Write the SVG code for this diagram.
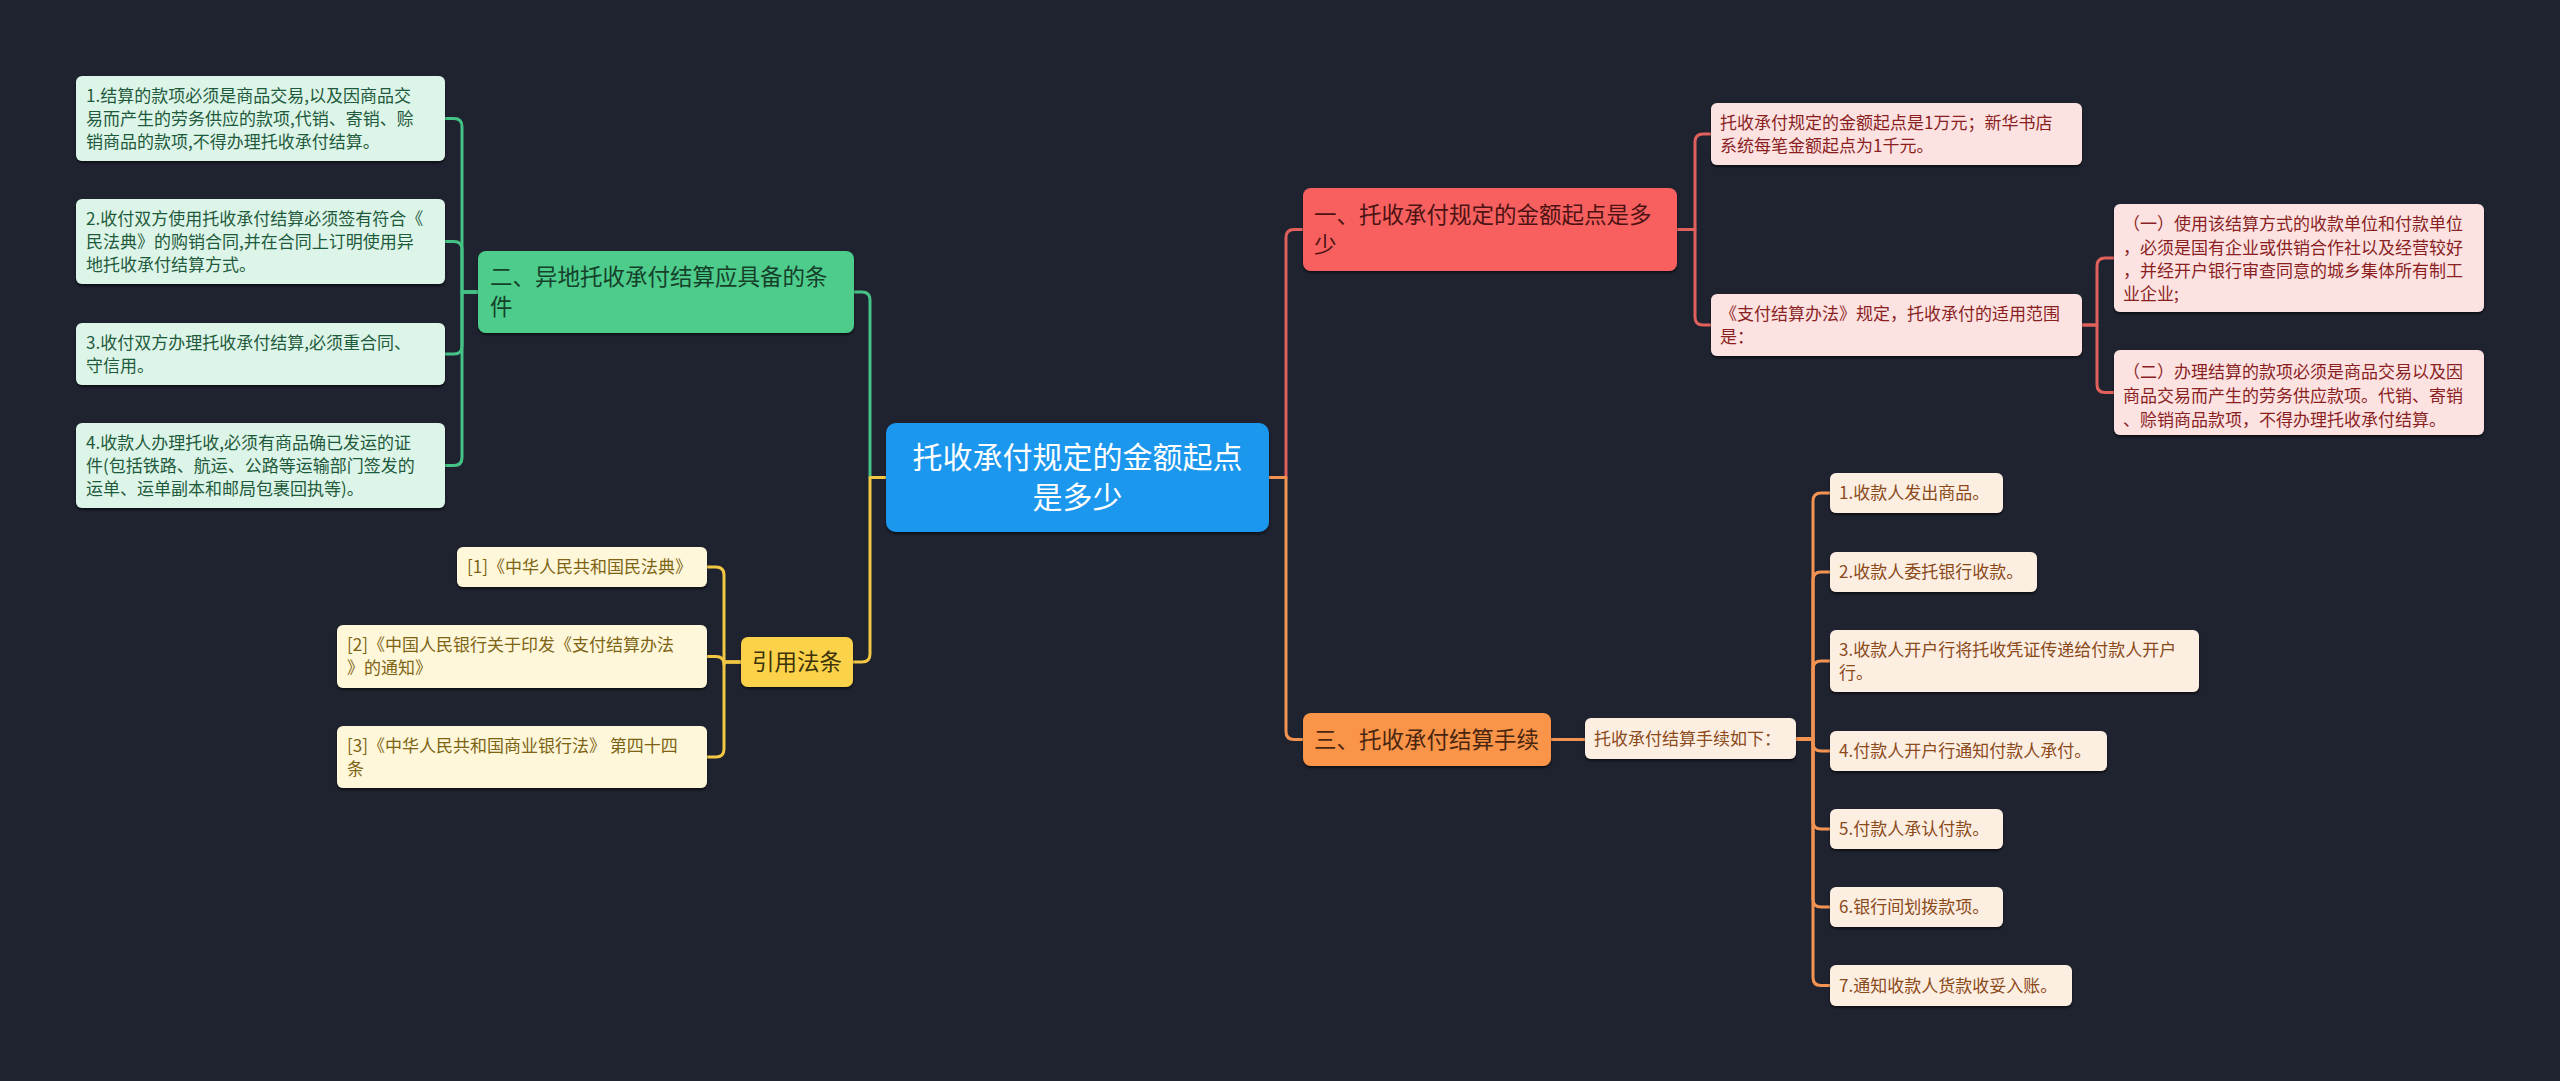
<svg xmlns="http://www.w3.org/2000/svg" width="2560" height="1081" viewBox="0 0 2560 1081">
<defs>
<filter id="sh" x="-5%" y="-10%" width="110%" height="130%">
<feDropShadow dx="0" dy="2" stdDeviation="1" flood-color="#000" flood-opacity="0.55"/>
</filter>
<style>
text{font-family:"Noto Sans CJK SC","Noto Sans",sans-serif;}
.lf{font-size:17px;}
.br{font-size:22.5px;}
.rt{font-size:30px;fill:#ffffff;text-anchor:middle;}
rect{filter:url(#sh);}
.c{fill:none;stroke-width:3;stroke-linejoin:round;}
.cg{stroke:#45c285;} .cy{stroke:#f2c744;} .cr{stroke:#e0605c;} .co{stroke:#f39352;}
.gB rect{fill:#4dcc8c;} .gB text{fill:#15402a;}
.gL rect{fill:#dcf5e8;} .gL text{fill:#1f5a3c;}
.yB rect{fill:#fcd24c;} .yB text{fill:#3d3208;}
.yL rect{fill:#fff7d9;} .yL text{fill:#7d6414;}
.rB rect{fill:#f86161;} .rB text{fill:#4d1313;}
.rL rect{fill:#fde2e2;} .rL text{fill:#8a1f1f;}
.oB rect{fill:#fa9448;} .oB text{fill:#4a2610;}
.oL rect{fill:#fdeee2;} .oL text{fill:#8a4a1a;}
</style>
</defs>
<rect x="0" y="0" width="2560" height="1081" fill="#1f222f" style="filter:none"/>

<g id="connectors">
<path class="c cg" d="M886,477.5 H870 V300 Q870,292 862,292 H854"/>
<path class="c cy" d="M886,477.5 H870 V654 Q870,662 862,662 H853"/>
<path class="c cr" d="M1269,477.5 H1286 V237.5 Q1286,229.5 1294,229.5 H1303"/>
<path class="c co" d="M1269,477.5 H1286 V731.5 Q1286,739.5 1294,739.5 H1303"/>
<path class="c cg" d="M478,292 H462 V126.5 Q462,118.5 454,118.5 H445"/>
<path class="c cg" d="M478,292 H462 V249.5 Q462,241.5 454,241.5 H445"/>
<path class="c cg" d="M478,292 H462 V346 Q462,354 454,354 H445"/>
<path class="c cg" d="M478,292 H462 V457.5 Q462,465.5 454,465.5 H445"/>
<path class="c cy" d="M741,662 H724 V575 Q724,567 716,567 H707"/>
<path class="c cy" d="M741,662 H724 V664.5 Q724,656.5 716,656.5 H707"/>
<path class="c cy" d="M741,662 H724 V749 Q724,757 716,757 H707"/>
<path class="c cr" d="M1677,229.5 H1695 V142 Q1695,134 1703,134 H1711"/>
<path class="c cr" d="M1677,229.5 H1695 V317 Q1695,325 1703,325 H1711"/>
<path class="c cr" d="M2082,325 H2097 V266 Q2097,258 2105,258 H2114"/>
<path class="c cr" d="M2082,325 H2097 V384.5 Q2097,392.5 2105,392.5 H2114"/>
<path class="c co" d="M1551,739.5 H1585"/>
<path class="c co" d="M1796,739 H1813 V501 Q1813,493 1821,493 H1830"/>
<path class="c co" d="M1796,739 H1813 V580 Q1813,572 1821,572 H1830"/>
<path class="c co" d="M1796,739 H1813 V669 Q1813,661 1821,661 H1830"/>
<path class="c co" d="M1796,739 H1813 V743 Q1813,751 1821,751 H1830"/>
<path class="c co" d="M1796,739 H1813 V821 Q1813,829 1821,829 H1830"/>
<path class="c co" d="M1796,739 H1813 V899 Q1813,907 1821,907 H1830"/>
<path class="c co" d="M1796,739 H1813 V977.5 Q1813,985.5 1821,985.5 H1830"/>
</g>

<g id="root">
<rect x="886" y="423" width="383" height="109" rx="10" fill="#1c97ee"/>
<text class="rt" x="1077.5" y="468">托收承付规定的金额起点</text>
<text class="rt" x="1077.5" y="508">是多少</text>
</g>

<g id="branch2" class="gB">
<rect x="478" y="251" width="376" height="82" rx="8"/>
<text class="br" x="490" y="285">二、异地托收承付结算应具备的条</text>
<text class="br" x="490" y="315">件</text>
</g>
<g id="g1" class="gL">
<rect x="76" y="76" width="369" height="85" rx="6"/>
<text class="lf" x="86" y="101.5">1.结算的款项必须是商品交易,以及因商品交</text>
<text class="lf" x="86" y="124.5">易而产生的劳务供应的款项,代销、寄销、赊</text>
<text class="lf" x="86" y="147.5">销商品的款项,不得办理托收承付结算。</text>
</g>
<g id="g2" class="gL">
<rect x="76" y="199" width="369" height="85" rx="6"/>
<text class="lf" x="86" y="224.5">2.收付双方使用托收承付结算必须签有符合《</text>
<text class="lf" x="86" y="247.5">民法典》的购销合同,并在合同上订明使用异</text>
<text class="lf" x="86" y="270.5">地托收承付结算方式。</text>
</g>
<g id="g3" class="gL">
<rect x="76" y="323" width="369" height="62" rx="6"/>
<text class="lf" x="86" y="348.5">3.收付双方办理托收承付结算,必须重合同、</text>
<text class="lf" x="86" y="371.5">守信用。</text>
</g>
<g id="g4" class="gL">
<rect x="76" y="423" width="369" height="85" rx="6"/>
<text class="lf" x="86" y="448.5">4.收款人办理托收,必须有商品确已发运的证</text>
<text class="lf" x="86" y="471.5">件(包括铁路、航运、公路等运输部门签发的</text>
<text class="lf" x="86" y="494.5">运单、运单副本和邮局包裹回执等)。</text>
</g>

<g id="branchY" class="yB">
<rect x="741" y="637" width="112" height="50" rx="7"/>
<text class="br" x="797" y="670" text-anchor="middle">引用法条</text>
</g>
<g id="y1" class="yL">
<rect x="457" y="547" width="250" height="40" rx="6"/>
<text class="lf" x="467" y="573">[1]《中华人民共和国民法典》</text>
</g>
<g id="y2" class="yL">
<rect x="337" y="625" width="370" height="63" rx="6"/>
<text class="lf" x="347" y="651">[2]《中国人民银行关于印发《支付结算办法</text>
<text class="lf" x="347" y="674">》的通知》</text>
</g>
<g id="y3" class="yL">
<rect x="337" y="726" width="370" height="62" rx="6"/>
<text class="lf" x="347" y="751.5">[3]《中华人民共和国商业银行法》 第四十四</text>
<text class="lf" x="347" y="774.5">条</text>
</g>

<g id="branch1" class="rB">
<rect x="1303" y="188" width="374" height="83" rx="8"/>
<text class="br" x="1314" y="222.5">一、托收承付规定的金额起点是多</text>
<text class="br" x="1314" y="252.5">少</text>
</g>
<g id="r1" class="rL">
<rect x="1711" y="103" width="371" height="62" rx="6"/>
<text class="lf" x="1720" y="128.5">托收承付规定的金额起点是1万元；新华书店</text>
<text class="lf" x="1720" y="151.5">系统每笔金额起点为1千元。</text>
</g>
<g id="r2" class="rL">
<rect x="1711" y="294" width="371" height="62" rx="6"/>
<text class="lf" x="1720" y="319.5">《支付结算办法》规定，托收承付的适用范围</text>
<text class="lf" x="1720" y="342.5">是：</text>
</g>
<g id="r21" class="rL">
<rect x="2114" y="204" width="370" height="108" rx="6"/>
<text class="lf" x="2123" y="230">（一）使用该结算方式的收款单位和付款单位</text>
<text class="lf" x="2123" y="254">，必须是国有企业或供销合作社以及经营较好</text>
<text class="lf" x="2123" y="277">，并经开户银行审查同意的城乡集体所有制工</text>
<text class="lf" x="2123" y="300">业企业;</text>
</g>
<g id="r22" class="rL">
<rect x="2114" y="350" width="370" height="85" rx="6"/>
<text class="lf" x="2123" y="377.5">（二）办理结算的款项必须是商品交易以及因</text>
<text class="lf" x="2123" y="401.5">商品交易而产生的劳务供应款项。代销、寄销</text>
<text class="lf" x="2123" y="425.5">、赊销商品款项，不得办理托收承付结算。</text>
</g>

<g id="branch3" class="oB">
<rect x="1303" y="713" width="248" height="53" rx="8"/>
<text class="br" x="1314" y="747.5">三、托收承付结算手续</text>
</g>
<g id="o0" class="oL">
<rect x="1585" y="718" width="211" height="41" rx="6"/>
<text class="lf" x="1594" y="744.5">托收承付结算手续如下：</text>
</g>
<g id="o1" class="oL">
<rect x="1830" y="473" width="173" height="40" rx="6"/>
<text class="lf" x="1839" y="499">1.收款人发出商品。</text>
</g>
<g id="o2" class="oL">
<rect x="1830" y="552" width="207" height="40" rx="6"/>
<text class="lf" x="1839" y="578">2.收款人委托银行收款。</text>
</g>
<g id="o3" class="oL">
<rect x="1830" y="630" width="369" height="62" rx="6"/>
<text class="lf" x="1839" y="655.5">3.收款人开户行将托收凭证传递给付款人开户</text>
<text class="lf" x="1839" y="678.5">行。</text>
</g>
<g id="o4" class="oL">
<rect x="1830" y="731" width="277" height="40" rx="6"/>
<text class="lf" x="1839" y="757">4.付款人开户行通知付款人承付。</text>
</g>
<g id="o5" class="oL">
<rect x="1830" y="809" width="173" height="40" rx="6"/>
<text class="lf" x="1839" y="835">5.付款人承认付款。</text>
</g>
<g id="o6" class="oL">
<rect x="1830" y="887" width="173" height="40" rx="6"/>
<text class="lf" x="1839" y="913">6.银行间划拨款项。</text>
</g>
<g id="o7" class="oL">
<rect x="1830" y="965" width="242" height="41" rx="6"/>
<text class="lf" x="1839" y="991.5">7.通知收款人货款收妥入账。</text>
</g>
</svg>
